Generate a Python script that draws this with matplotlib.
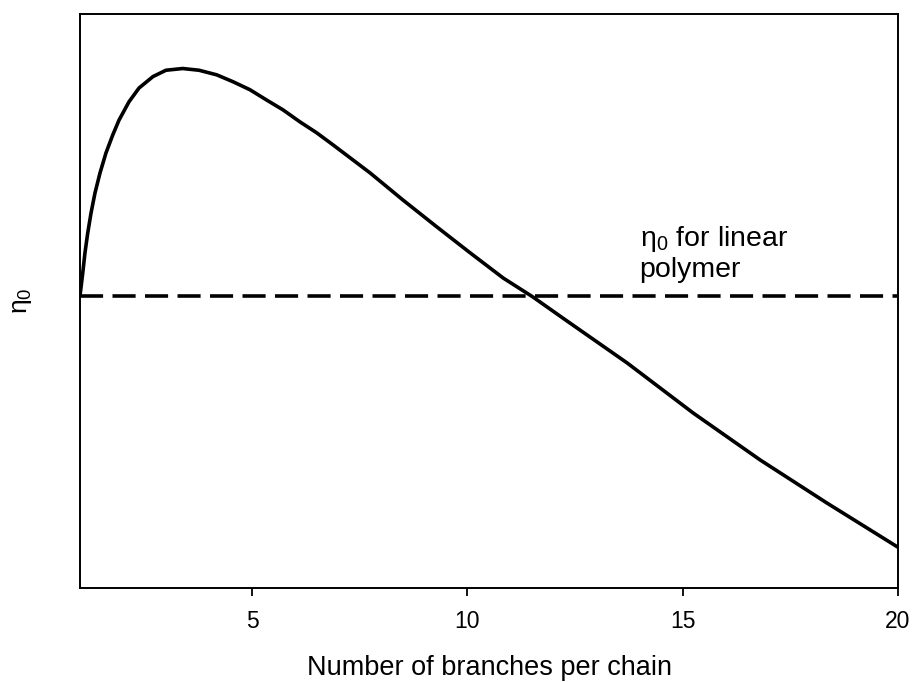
import matplotlib
matplotlib.use("Agg")
import matplotlib.pyplot as plt

plt.rcParams['font.family'] = ['Liberation Sans', 'DejaVu Sans']

# Curve (arbitrary viscosity units)
branches = [1.0, 1.063, 1.116, 1.179, 1.256, 1.348, 1.465, 1.604, 1.760, 1.906,
            2.138, 2.371, 2.696, 2.998, 3.386, 3.764, 4.175, 4.554, 4.949, 5.337,
            5.715, 6.110, 6.498, 6.877, 7.74, 8.50, 9.29, 10.06, 10.83, 11.52,
            12.22, 13.71, 15.24, 16.80, 18.35, 20.0]
eta0 = [5.09, 5.48, 5.84, 6.18, 6.53, 6.88, 7.23, 7.58, 7.89, 8.15,
        8.47, 8.71, 8.91, 9.02, 9.05, 9.02, 8.94, 8.82, 8.68, 8.50,
        8.33, 8.12, 7.93, 7.72, 7.23, 6.76, 6.29, 5.84, 5.40, 5.07,
        4.70, 3.92, 3.05, 2.23, 1.48, 0.71]
linear_eta0 = 5.09
xticks = [5, 10, 15, 20]

fig = plt.figure(figsize=(9.13, 6.82), dpi=100)
ax = fig.add_axes([0.0876, 0.1378, 0.896, 0.8417])

ax.plot(branches, eta0, color='black', lw=2.6, solid_capstyle='round', solid_joinstyle='round')
ax.axhline(linear_eta0, color='black', lw=2.6, dashes=(6.4, 2.6))

ax.set_xlim(1, 20)
ax.set_ylim(0, 10)
ax.set_xticks(xticks)
ax.set_yticks([])
ax.tick_params(axis='x', direction='out', length=6, width=1.3, labelsize=16.5, pad=10)
for s in ax.spines.values():
    s.set_linewidth(1.4)

xl = ax.set_xlabel('Number of branches per chain', fontsize=19.5)
ax.xaxis.set_label_coords(0.5, -0.1516)
xl.set_va('baseline')

yl = ax.set_ylabel(r'$\mathregular{\eta_0}$', fontsize=19)
ax.yaxis.set_label_coords(-0.0709, 0.50)
yl.set_va('center')
yl.set_ha('center')

ax.text(14.0, 5.96, r'$\mathregular{\eta_0}$ for linear', fontsize=20.5,
        ha='left', va='baseline')
ax.text(14.0, 5.42, 'polymer', fontsize=20.5, ha='left', va='baseline')

fig.savefig('out.png', dpi=100)
